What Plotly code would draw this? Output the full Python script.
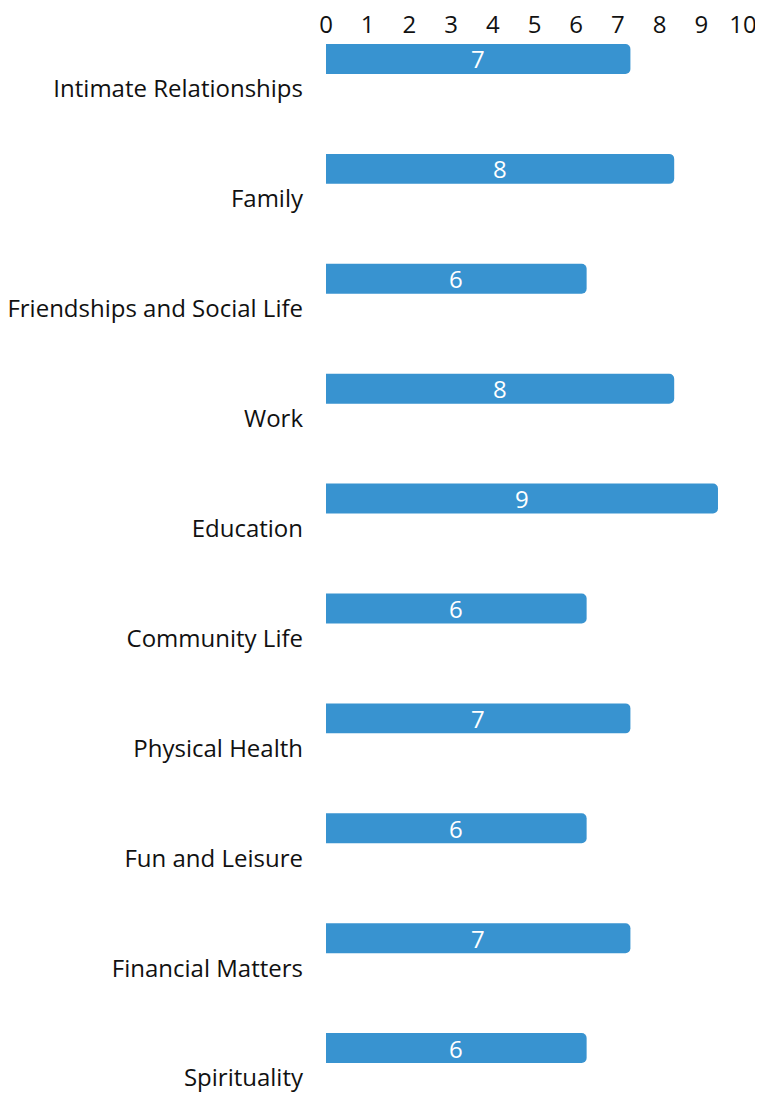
import plotly.graph_objects as go

categories = ["Intimate Relationships", "Family", "Friendships and Social Life", "Work",
              "Education", "Community Life", "Physical Health", "Fun and Leisure",
              "Financial Matters", "Spirituality"]
scores = [7.3, 8.35, 6.25, 8.35, 9.4, 6.25, 7.3, 6.25, 7.3, 6.25]
score_labels = ["7", "8", "6", "8", "9", "6", "7", "6", "7", "6"]
x_ticks = list(range(0, 11))

FONT = "Open Sans"
BAR = "#3893d0"
TXT = "#111111"

fig = go.Figure(go.Bar(
    x=scores, y=categories, orientation="h",
    marker=dict(color=BAR, line=dict(width=0), cornerradius=5),
    width=0.2727, offset=-0.409,
    hoverinfo="skip",
))

for cat, s, lab in zip(categories, scores, score_labels):
    fig.add_annotation(x=s / 2, y=cat, text=lab, showarrow=False, yshift=30,
                       font=dict(color="white", size=24, family=FONT))

fig.update_layout(
    width=755, height=1086,
    margin=dict(l=318, r=20, t=33, b=0),
    paper_bgcolor="white", plot_bgcolor="white",
    showlegend=False,
    font=dict(family=FONT, size=24, color=TXT),
)
fig.update_xaxes(side="top", range=[0, 10], tickvals=x_ticks, showgrid=False,
                 zeroline=False, showline=False, ticks="", automargin=False,
                 ticklabelstandoff=2,
                 tickfont=dict(size=24, family=FONT, color=TXT))
fig.update_yaxes(type="category", categoryorder="array", categoryarray=categories,
                 range=[9.1455, -0.43636], showgrid=False, zeroline=False,
                 showline=False, ticks="", ticklabelstandoff=22, automargin=False,
                 tickfont=dict(size=24, family=FONT, color=TXT))

fig.write_html("out.html")
